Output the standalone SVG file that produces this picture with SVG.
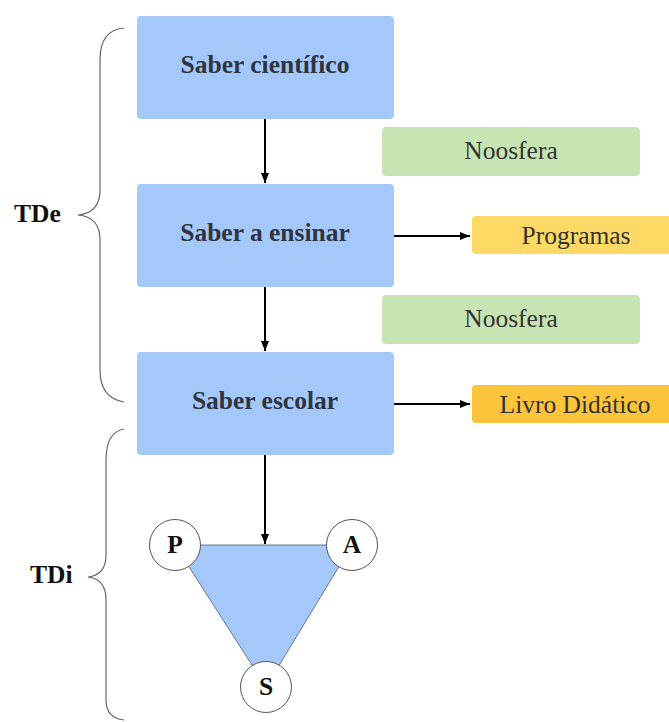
<svg xmlns="http://www.w3.org/2000/svg" width="669" height="722" viewBox="0 0 669 722">
<defs>
<marker id="ah" viewBox="0 0 10 10" refX="10" refY="5" markerWidth="5" markerHeight="5" orient="auto" markerUnits="strokeWidth">
<path d="M0,1 L10,5 L0,9 z" fill="#000"/>
</marker>
<style>
.blue{fill:#a4c8f9;}
.green{fill:#c6e5b3;}
.yellow{fill:#ffd966;}
.orange{fill:#fbc43a;}
.bt{font-family:"Liberation Serif",serif;font-weight:bold;font-size:25.5px;fill:#2e3440;text-anchor:middle;}
.rt{font-family:"Liberation Serif",serif;font-size:25.5px;fill:#333;text-anchor:middle;}
.lab{font-family:"Liberation Serif",serif;font-weight:bold;font-size:25.5px;fill:#111;}
.conn{stroke:#000;stroke-width:2;fill:none;marker-end:url(#ah);}
.brace{stroke:#666;stroke-width:1.2;fill:none;}
.circ{fill:#fff;stroke:#555;stroke-width:1;}
</style>
</defs>
<rect width="669" height="722" fill="#fff"/>
<g id="braces">
<path class="brace" d="M124,28 Q100,30 100,60 L100,190 Q100,213 78,215 Q100,217 100,240 L100,370 Q100,398 124,402"/>
<path class="brace" d="M124,429 Q106,432 106,460 L106,555 Q106,575 88,577 Q106,579 106,600 L106,700 Q106,718 124,720"/>
</g>
<text class="lab" x="14" y="222">TDe</text>
<text class="lab" x="30" y="583">TDi</text>
<g id="connectors">
<line class="conn" x1="265" y1="119" x2="265" y2="183"/>
<line class="conn" x1="265" y1="287" x2="265" y2="351"/>
<line class="conn" x1="265" y1="455" x2="265" y2="544"/>
<line class="conn" x1="394" y1="236" x2="470" y2="236"/>
<line class="conn" x1="394" y1="404" x2="470" y2="404"/>
</g>
<g id="saber-cientifico"><rect class="blue" x="137" y="16" width="257" height="103" rx="4"/><text class="bt" x="265" y="73">Saber científico</text></g>
<g id="saber-ensinar"><rect class="blue" x="137" y="184" width="257" height="103" rx="4"/><text class="bt" x="265" y="241">Saber a ensinar</text></g>
<g id="saber-escolar"><rect class="blue" x="137" y="352" width="257" height="103" rx="4"/><text class="bt" x="265" y="409">Saber escolar</text></g>
<g id="noosfera1"><rect class="green" x="382" y="127" width="258" height="49" rx="4"/><text class="rt" x="511" y="159">Noosfera</text></g>
<g id="noosfera2"><rect class="green" x="382" y="295" width="258" height="49" rx="4"/><text class="rt" x="511" y="327">Noosfera</text></g>
<g id="programas"><rect class="yellow" x="472" y="216" width="202" height="38" rx="4"/><text class="rt" x="576" y="244">Programas</text></g>
<g id="livro"><rect class="orange" x="472" y="385" width="202" height="38" rx="4"/><text class="rt" x="575" y="413">Livro Didático</text></g>
<g id="triangle"><polygon points="175,545 352,545 266,687" fill="#a4c8f9" stroke="#6a7a8c" stroke-width="1"/></g>
<g id="P"><circle class="circ" cx="175" cy="545" r="25.5"/><text class="bt" x="175" y="553" style="fill:#111">P</text></g>
<g id="A"><circle class="circ" cx="352" cy="545" r="25.5"/><text class="bt" x="352" y="553" style="fill:#111">A</text></g>
<g id="S"><circle class="circ" cx="266" cy="687" r="25.5"/><text class="bt" x="266" y="695" style="fill:#111">S</text></g>
</svg>
